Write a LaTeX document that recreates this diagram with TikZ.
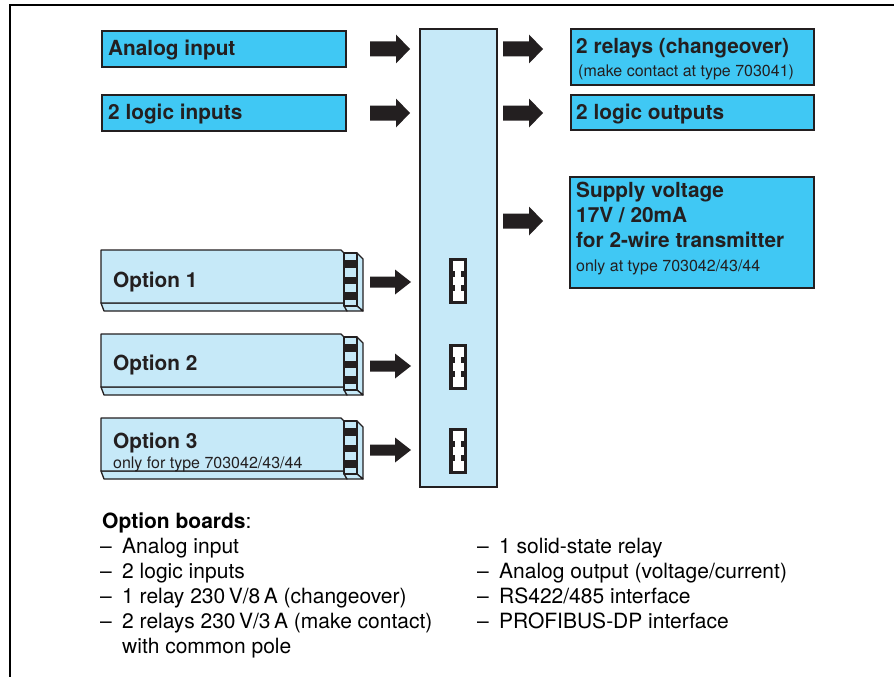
\documentclass[tikz,border=0pt]{standalone}
\usepackage{fontspec}
\setmainfont{TeX Gyre Heros}
\definecolor{cyanbox}{HTML}{40C8F4}
\definecolor{lightboard}{HTML}{C6E9F8}
\definecolor{ink}{HTML}{231F20}
\tikzset{
  frameline/.style={line width=2.6pt, black},
  cbox/.style={draw=ink, line width=1.8pt, fill=cyanbox, rectangle, anchor=north west, inner sep=0pt},
  boardbox/.style={draw=ink, line width=1.6pt, fill=lightboard, rectangle, anchor=north west, inner sep=0pt},
  lbl/.style={anchor=base west, inner sep=0pt, text=ink, font=\fontsize{20.8}{24}\selectfont\bfseries},
  sml/.style={anchor=base west, inner sep=0pt, text=ink, font=\fontsize{16}{19}\selectfont},
  lst/.style={anchor=base west, inner sep=0pt, text=black, font=\fontsize{21}{25}\selectfont},
  partline/.style={draw=ink, fill=lightboard, line width=1.3pt, line join=round},
  bigarrow/.pic={\fill[ink] (0,-7.5) -- (26,-7.5) -- (26,-14.5) -- (40,0) -- (26,14.5) -- (26,7.5) -- (0,7.5) -- cycle;},
  smallarrow/.pic={\fill[ink] (0,-5.5) -- (25,-5.5) -- (25,-12.5) -- (41,0) -- (25,12.5) -- (25,5.5) -- (0,5.5) -- cycle;},
  slotpic/.pic={
    \fill[ink] (0,0) rectangle (18,46);
    \fill[white] (3.5,3) rectangle (14.5,43);
    \fill[ink] (3.5,13) rectangle (6,19);
    \fill[ink] (3.5,27) rectangle (6,33);
    \fill[ink] (12,13) rectangle (14.5,19);
    \fill[ink] (12,27) rectangle (14.5,33);
  },
  optboard/.pic={
    \filldraw[partline] (0,53) -- (3,61) -- (246,61) -- (243,53) -- cycle;
    \filldraw[partline] (256,3) -- (262,9) -- (262,61) -- (256,56) -- cycle;
    \filldraw[partline] (243,56) -- (246,61) -- (262,61) -- (256,56) -- cycle;
    \filldraw[partline] (0,0) -- (240,0) -- (243,3) -- (243,53) -- (0,53) -- cycle;
    \filldraw[partline] (243,3) rectangle (256,56);
    \fill[ink] (243,10) rectangle (256,18);
    \fill[ink] (243,27) rectangle (256,34);
    \fill[ink] (243,42) rectangle (256,50);
  }
}
\begin{document}
\begin{tikzpicture}[x=1pt, y=-1pt]
\useasboundingbox (0,0) rectangle (894,677);
\draw[frameline] (10,677) -- (10,5) -- (894,5);

% main board
\node[boardbox, minimum width=77pt, minimum height=458pt] (board) at (419,28) {};

% input boxes
\node[cbox, minimum width=244pt, minimum height=36pt] (ain) at (101,30) {};
\node[lbl] (ainT) at (108,55.5) {Analog input};
\node[cbox, minimum width=244pt, minimum height=36pt] (lin) at (101,94) {};
\node[lbl] (linT) at (108,119.5) {2 logic inputs};

% output boxes
\node[cbox, minimum width=243pt, minimum height=56pt] (rel) at (570,28) {};
\node[lbl] (relT) at (576,53) {2 relays (changeover)};
\node[sml] (relS) at (578,77) {(make contact at type 703041)};
\node[cbox, minimum width=243pt, minimum height=35pt] (lout) at (570,94) {};
\node[lbl] (loutT) at (576,119) {2 logic outputs};
\node[cbox, minimum width=244pt, minimum height=111pt] (sup) at (569,176) {};
\node[lbl] (supA) at (576,197) {Supply voltage};
\node[lbl] (supB) at (576,222) {17V / 20mA};
\node[lbl] (supC) at (576,247) {for 2-wire transmitter};
\node[sml] (supD) at (576,271) {only at type 703042/43/44};

% arrows
\pic at (370,49) {bigarrow};
\pic at (370,113) {bigarrow};
\pic at (503,49) {bigarrow};
\pic at (503,113) {bigarrow};
\pic at (503,221) {bigarrow};

% option boards
\pic at (101,250) {optboard};
\pic at (101,334) {optboard};
\pic at (101,418) {optboard};
\node[lbl] (o1) at (113,287) {Option 1};
\node[lbl] (o2) at (113,370) {Option 2};
\node[lbl] (o3) at (113,448) {Option 3};
\node[sml] (o3s) at (113,468) {only for type 703042/43/44};

\pic at (370,282) {smallarrow};
\pic at (370,366) {smallarrow};
\pic at (370,450) {smallarrow};

\pic at (449,258) {slotpic};
\pic at (449,344) {slotpic};
\pic at (449,428) {slotpic};

% list
\node[lst] (ob) at (102,528) {\textbf{Option boards}:};
\node[lst] (l1) at (100,553) {\makebox[22pt][l]{–}Analog input};
\node[lst] (l2) at (100,578) {\makebox[22pt][l]{–}2 logic inputs};
\node[lst] (l3) at (100,603) {\makebox[22pt][l]{–}1 relay 230\,V/8\,A (changeover)};
\node[lst] (l4) at (100,628) {\makebox[22pt][l]{–}2 relays 230\,V/3\,A (make contact)};
\node[lst] (l5) at (122,653) {with common pole};
\node[lst] (r1) at (477,553) {\makebox[22pt][l]{–}1 solid-state relay};
\node[lst] (r2) at (477,578) {\makebox[22pt][l]{–}Analog output (voltage/current)};
\node[lst] (r3) at (477,603) {\makebox[22pt][l]{–}RS422/485 interface};
\node[lst] (r4) at (477,628) {\makebox[22pt][l]{–}PROFIBUS-DP interface};
\end{tikzpicture}
\end{document}
